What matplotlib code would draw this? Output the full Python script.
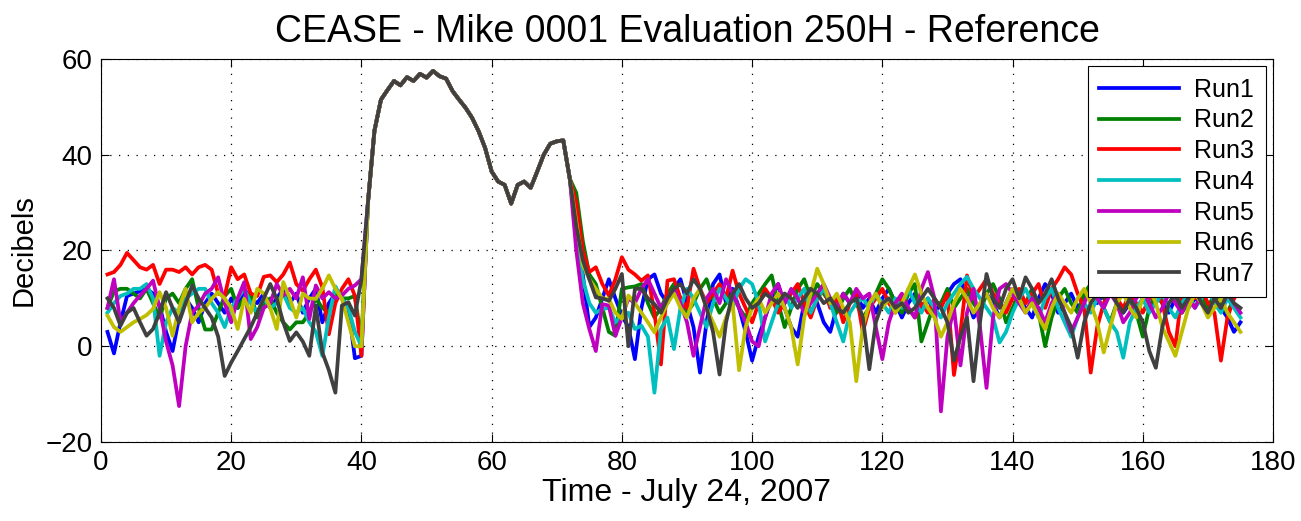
import numpy as np
import matplotlib
matplotlib.use("Agg")
import matplotlib.pyplot as plt

# ---------------- data ----------------
run_labels = ["Run1", "Run2", "Run3", "Run4", "Run5", "Run6", "Run7"]
run_colors = ["#0000FF", "#008000", "#FF0000", "#00BFBF", "#BF00BF", "#BFBF00", "#404040"]

# samples 1..40 (background before the event)
run1_head = [3, -1.5, 5, 10.5, 11, 11.5, 12, 11, 8.5, 3, -1, 6, 10, 8, 5, 9, 11, 9, 7, 10,
             8, 12, 10, 9, 11, 8, 10, 12, 9, 11, 7, 10, 12, 5, 9, 11, 10, 8, -2.5, -2]
run2_head = [8, 11.5, 12, 12, 11, 10, 12, 9, 6, 10, 11, 9, 12, 14, 8, 3.5, 3.5, 7, 10.5, 12,
             8, 10, 11, 6, 9, 10, 7, 5, 3.5, 5, 5, 7, 10, 8, 7, 11, 10, 10, 10.5, 1]
run3_head = [15, 15.5, 17, 19.5, 18, 16.5, 16, 17, 13, 16, 16, 15.5, 16.5, 15, 16.5, 17, 16, 11, 10.5, 16.5,
             14, 15, 11, 10.5, 14.5, 14.8, 13.4, 15, 17.5, 13, 11.6, 14, 16, 12.3, 2.5, 9, 12, 14, 10.5, -2]
run4_head = [7, 9, 10.5, 11, 12, 12, 13, 10, -2, 5, 8, 7, 10, 11, 12, 12, 9, 7, 4, 8,
             10, 12, 9, 7, 10, 8, 9, 11, 8, 7, 8, 5, 3, -2, 6, 12.5, 10, 8, 3, 0]
run5_head = [8, 14, 5, 7, 9, 10.6, 12, 13.7, 8, 1, -4, -12.5, 0, 7, 8.5, 11, 12, 14.4, 9, 5,
             10, 13.4, 1.5, 4, 8, 9, 13, 10.6, 12, 10, 14.4, 5.7, 12.7, 10, 11.3, 10, 10.6, 12, 12.7, 14]
run6_head = [6.4, 4, 3, 4, 5, 5.7, 6.5, 7.8, 11.3, 8, 2.2, 8, 12, 5, 7, 8, 9.9, 11.3, 10, 8,
             3.6, 9.9, 7, 12, 11, 8, 3.6, 13.4, 10, 6, 11, 10, 9.9, 12, 14.8, 12, 9.9, 5, 0, 0]
run7_head = [10, 8, 4.3, 7, 8, 5, 2.2, 3.6, 7, 11.3, 8, 5, 9, 12.7, 10, 8, 6, 2, -6.2, -3.4,
             -1, 1.5, 4, 7, 10, 13, 9.9, 5, 1.1, 2.9, 1, -2, 8.5, -1.3, -5, -9.7, 8.5, 9.2, 6.4, 14]

# samples 41..72 (the loud event, identical for every run)
event = [30, 45, 51.5, 53.5, 55.4, 54.5, 56.2, 55.4, 56.9, 56.1, 57.5, 56.4, 55.9, 53.3, 51.5, 49.8,
         47.7, 44.9, 41.4, 36.5, 34.4, 33.7, 29.8, 33.7, 34.4, 33.1, 36.5, 40, 42.3, 42.8, 43, 35]

# samples 73..175 (background after the event)
run1_tail = [26, 15, 4, 6, 10, 14, 10, 6.4, 4, -2.7, 8, 14, 15, 11, 9, 12, 14, 9, 4, -5.5,
             5, 13, 15, 9, 12, 8, 3, -3, 2, 6, 10, 13, 8, 4, 2, 9, 12, 9, 5, 3,
             8, 11, 9, 11, 8, 10, 7, 10, 12, 9, 6, 9, 11, 8, 10, 7, 9, 11, 13, 14,
             10, 6, 8, 11, 9, 6, 9, 12, 10, 8, 6, 10, 13, 11, 7, 9, 11, 8, 10, 12,
             9, 11, 13, 10, 7, 9, 12, 10, 8, 11, 9, 7, 10, 12, 8, 10, 9, 11, 12, 8,
             6, 3, 5]
run2_tail = [32, 22, 15, 13, 8, 3, 2.2, 12, 12.3, 12.5, 13, 9, 6, 8, 11, 13, 10, 7, 9, 12,
             14, 10, 7, 9, 11, 8, 6, 9, 11, 13, 14.8, 9, 4, 8, 12, 14, 10, 13, 11, 9,
             7, 10, 12, 9, 6, 8, 11, 14, 12, 9, 7, 11, 13, 1, 5, 9, 9, 12, 8, 10,
             12, 9, 7, 11, 13, 10, 5, 8, 11, 9, 12, 7, 0, 6, 10, 12, 9, 7, 11, 13,
             10, 8, 5, 9, 12, 10, 7, 2, 8, 11, 9, 12, 10, 7, 9, 12, 10, 8, 11, 9,
             7, 10, 12]
run3_tail = [30, 20, 15.5, 16.5, 13, 10.6, 14, 18.6, 16, 15, 13.7, 14.8, 7, -3.8, 13.7, 14, 10, 8, 16.2, 12,
             9, 11, 13, 10, 15.8, 11, 8, 5, 9, 12, 10, 7, 9, 11, 13, 9, 6, 10, 12, 8,
             10, 5, 9, 11, 3, 8, 10, 12, 9, 7, 10, 8, 6, 9, 7, 10, 8, 11, -6, 3,
             14.8, 10, 12, 14, 11, 9, 7, 10, 12, 9, 11, 13, 8, 12, 14, 16.5, 15, 11, 8, -5.5,
             4, 9, 12, 10, 8, 11, 9, 7, 10, 12, 9, 3, 0, 11, 13, 10, 12, 9, 7, -3,
             6, 10, 12]
run4_tail = [24, 14, 9, 7, 7.8, 8, 5, 6.4, 7, 3.6, 4.3, 2, -9.7, 3.6, 6, -0.6, 8, 12, 10, 7,
             4, 9, 12, 10, 8, 12, 14, 13, 9, 1, 5, 9, 11, 8, 10, 12, 7, 10, 12, 9,
             5, 1, 7, 9, 10, 8, 11, 9, 7, 10, 8, 12, 9, 7, 10, 8, 6, 9, 11, 13,
             14.5, 12, 10, 8, 6, 0.8, 3, 7, 10, 12, 9, 6, 10, 12, 8, 5, 2, 6, 9, 7,
             10, 8, 5, 3, -2.4, 5, 8, 10, 7, 9, 11, 8, 6, 9, 11, 8, 10, 12, 9, 7,
             10, 8, 6]
run5_tail = [20, 9, 3.6, -1, 8.8, 8.5, 2.2, 6, 10, 9, 12, 14, 11, 8, 10, 12, 9, 5, -2, 4,
             10, 12, 9, 14, 11, 8, 5, 1, 0, 6, 11, 13, 9, 12, 10, 7, 9, 11, 13, 10,
             8, 11, 9, 12, 10, 11, 4, -2.7, 5, 9, 11, 8, 6, 12, 15.5, 10, -13.6, 2, 8, -4,
             7, 12, 4, -8.7, 6, 12, 13, 11, 9, 7, 10, 8, 5, 9, 11, 7, 3, 6, 9, 12,
             10, 8, 11, 9, 5, 7, 10, 12, 9, 6, 8, 11, 9, 7, 10, 8, 11, 13, 10, 8,
             11, 9, 7]
run6_tail = [26, 17, 14, 12, 10, 9.9, 7, 5.7, 10.6, 9, 7, 5, 2.9, 6, 9, 11, 8, 6, 10, 12,
             8, 5, 2, 6, 9, -5, 4, 8, 10, 7, 9, 11, 8, 4, -3.8, 6, 11, 16.2, 13, 9,
             11, 8, 5, -7.3, 4, 9, 11, 8, 10, 7, 9, 12, 15, 11, 8, 6, 2, 5, 9, 12,
             10, 7, 9, 11, 8, 6, 9, 12, 10, 7, 9, 6, 3.6, 8, 11, 9, 7, 10, 12, 9,
             5, -1.3, 4, 9, 11, 8, 6, 10, 12, 9, 4, 1, -2, 3, 8, 11, 9, 6, 8, 10,
             7, 5, 3]
run7_tail = [25, 18, 14, 10.2, 10, 9.5, 12, 15.1, 0, 12, 12, 10, 8.8, 7, 10, 12, 13, 11, 14, 12,
             8, 3, -5.9, 5, 11, 13, 10, 8, 9, 11, 10, 9, 11, 10, 8, 10, 12, 11, 9, 10,
             8, 7, 9, 10, 6, -4.8, 5, 9, 10, 8, 9, 7, 8, 10, 12, 10, 8, 5, -3, 2,
             6, -7.3, 5, 15.1, 10, 8, 12, 14, 10, 14.4, 12, 9, 11, 14, 10, 7, 4, -2.4, 5, 9,
             11, 10, 12, 9, 7, 10, 8, 5, -1, -4.5, 4, 9, 11, 8, 10, 12, 9, 7, 10, 8,
             11, 9, 8]

heads = [run1_head, run2_head, run3_head, run4_head, run5_head, run6_head, run7_head]
tails = [run1_tail, run2_tail, run3_tail, run4_tail, run5_tail, run6_tail, run7_tail]

x_ticks = [0, 20, 40, 60, 80, 100, 120, 140, 160, 180]
y_ticks = [-20, 0, 20, 40, 60]

title_text = "CEASE - Mike 0001 Evaluation 250H - Reference"
x_label = "Time - July 24, 2007"
y_label = "Decibels"

# ---------------- plot ----------------
plt.rcParams['font.family'] = ['Liberation Sans', 'DejaVu Sans']

fig = plt.figure(figsize=(13.01, 5.21), dpi=100)
ax = fig.add_axes([0.0776, 0.1516, 0.9009, 0.7352])

for head, tail, lab, col in zip(heads, tails, run_labels, run_colors):
    y = np.concatenate([head, event, tail])
    x = np.arange(1, len(y) + 1)
    ax.plot(x, y, color=col, linewidth=2.7, label=lab, solid_joinstyle='round')

ax.set_xlim(0, 180)
ax.set_ylim(-20, 60)
ax.set_xticks(x_ticks)
ax.set_yticks(y_ticks)
ax.tick_params(direction='in', length=6, width=0.8, top=True, right=True,
               labelsize=20, pad=6, colors='black')
ax.grid(True, linestyle=(0, (1, 6)), color='black', linewidth=0.9)
for s in ax.spines.values():
    s.set_linewidth(0.8)
    s.set_color('black')

ax.set_title(title_text, fontsize=27, pad=12)
ax.set_xlabel(x_label, fontsize=23, labelpad=1)
ax.set_ylabel(y_label, fontsize=21, labelpad=6)

leg = ax.legend(loc='upper right', fontsize=18, handlelength=3.2, labelspacing=0.27,
                borderaxespad=0.3, fancybox=False, framealpha=1, edgecolor='black',
                handletextpad=0.6, borderpad=0.45)
leg.get_frame().set_linewidth(0.8)
for line in leg.get_lines():
    line.set_linewidth(2.7)

fig.savefig("out.png", dpi=100)
